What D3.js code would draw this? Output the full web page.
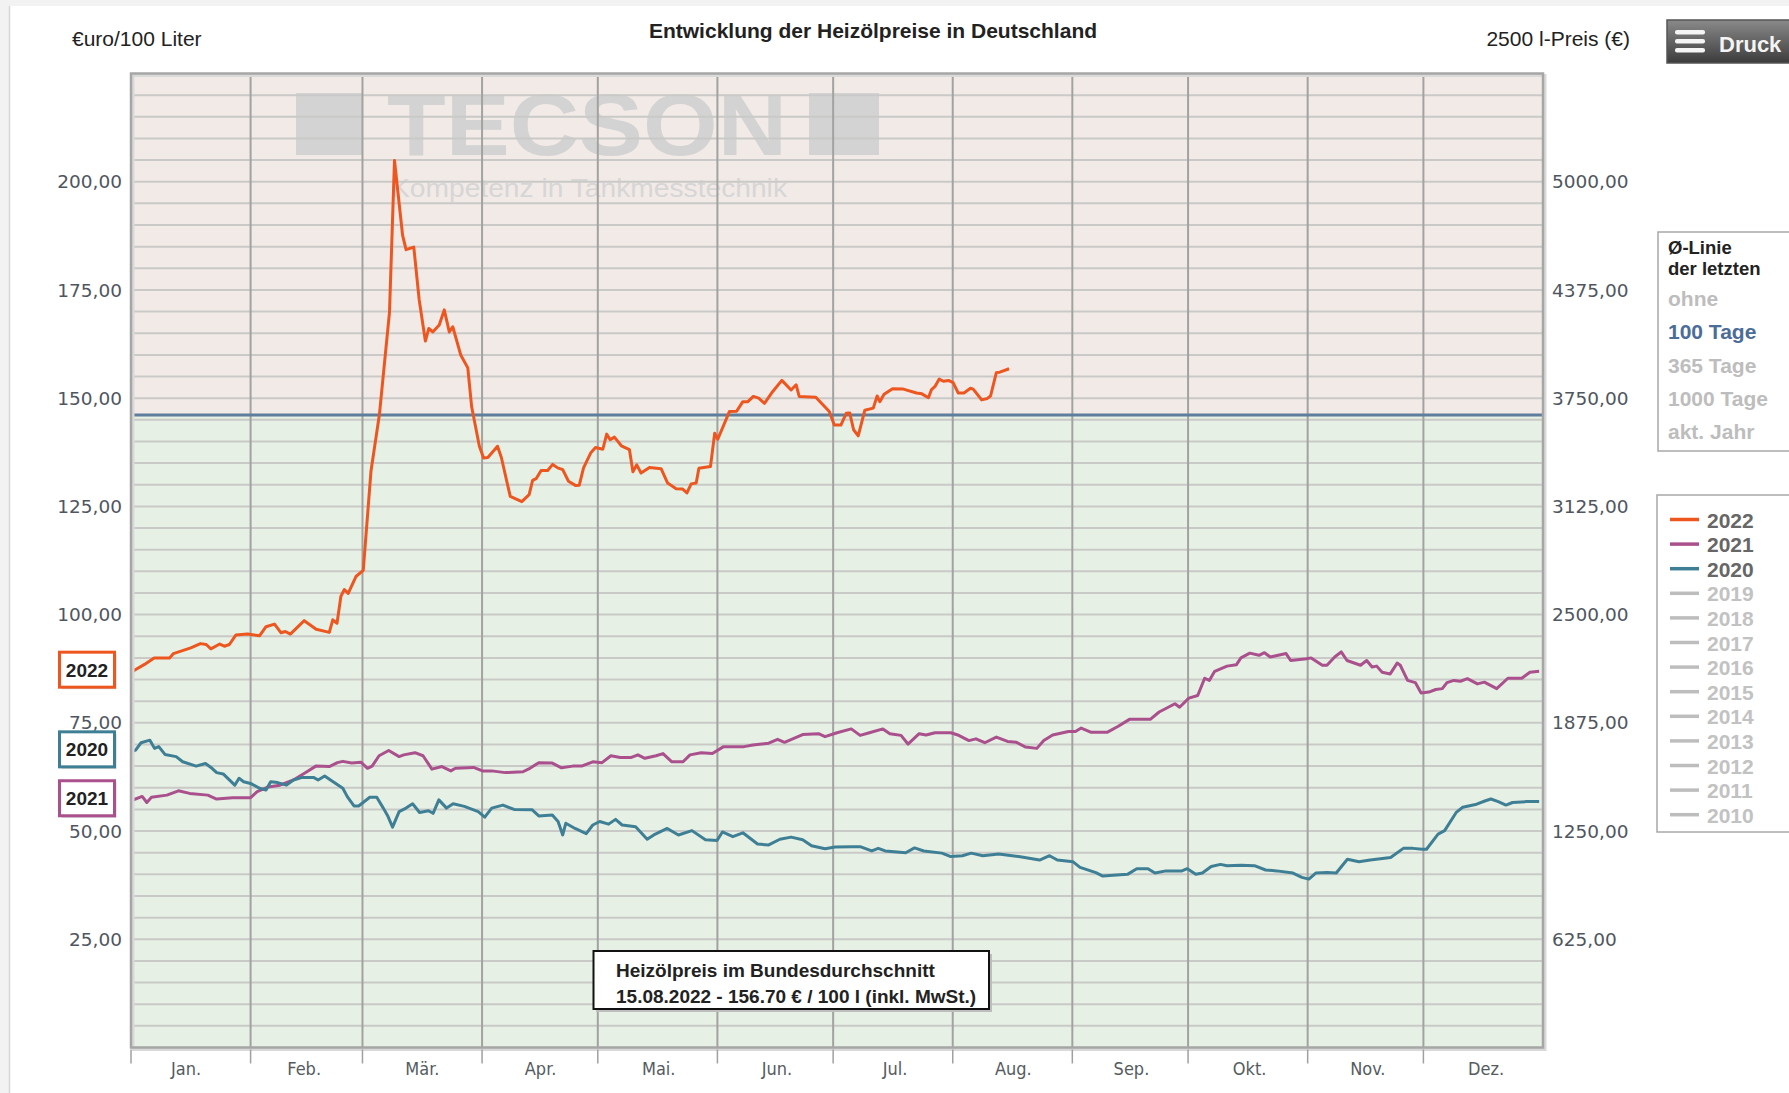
<!DOCTYPE html>
<html>
<head>
<meta charset="utf-8">
<script src="https://cdn.jsdelivr.net/npm/d3@7"></script>
<style>
    body { margin: 0; background: #ffffff; }
    svg { display: block; }
</style>
</head>
<body>
<svg id="chart"></svg>
<script>
// axis layout uses a leap year, so months start on these days
let months = ['Jan.', 'Feb.', 'Mär.', 'Apr.', 'Mai.', 'Jun.', 'Jul.', 'Aug.', 'Sep.', 'Okt.', 'Nov.', 'Dez.'];
let monthStarts = [0, 31, 60, 91, 121, 152, 182, 213, 244, 274, 305, 335, 366];
let priceTicks = [25, 50, 75, 100, 125, 150, 175, 200];
let average100 = 146.1;

let legendYears = ['2022', '2021', '2020', '2019', '2018', '2017', '2016', '2015', '2014', '2013', '2012', '2011', '2010'];
let activeYears = ['2022', '2021', '2020'];
let averageOptions = ['ohne', '100 Tage', '365 Tage', '1000 Tage', 'akt. Jahr'];
let activeAverage = '100 Tage';

// [day of year, euro per 100 l]
let prices2022 = [[0,86.7],[3.5,88.5],[6,90.0],[10,90.0],[11,91.0],[15.5,92.3],[18,93.3],[19.5,93.1],[20.7,92.1],[23,93.2],[24.2,92.7],[25.5,93.1],[27.2,95.3],[30.2,95.5],[33.3,95.1],[35,97.2],[37.2,97.8],[38.9,95.8],[40,96.1],[41.3,95.5],[44.9,98.6],[48,96.6],[51.4,95.9],[52.3,98.8],[53.4,98],[54.4,104.2],[55.3,105.8],[56.3,104.9],[58.3,108.8],[60.2,110.2],[62.2,133.1],[64.4,146.3],[67,169.8],[68.3,204.9],[70.4,187.6],[71.3,184.3],[73.3,184.9],[74.7,172.7],[76.3,163.2],[77.2,166.1],[78.2,165.3],[79.9,166.9],[81.2,170.4],[82.5,165.3],[83.4,166.5],[85.5,159.9],[87.3,157],[88.3,148],[90.3,138.9],[91.4,136.2],[92.5,136.3],[95,138.9],[96,136.3],[98.3,127.3],[101.3,126.1],[103.2,127.7],[104.1,131],[105,131.4],[106.3,133.3],[108,133.3],[109.3,134.7],[110.6,133.9],[111.9,133.5],[113.4,130.8],[115.3,129.8],[116.2,129.9],[117.3,133.9],[119.2,137.4],[120.4,138.6],[122.3,138.2],[123.3,141.7],[124.2,140.4],[125.3,141],[127.1,139],[129.2,138.1],[130.1,133],[131.1,134.6],[132.2,132.7],[134.4,134],[137.4,133.7],[139.1,130.4],[141.3,129.1],[143,129],[144.1,128.1],[145.2,130.2],[146.5,130.4],[147.2,133.8],[150.2,134.2],[151.3,141.9],[152.1,140.5],[155.1,146.9],[157,147],[158.6,149.2],[159.9,149.2],[161.3,150.4],[162.7,150],[164.2,148.8],[166.3,151.5],[168.7,154.1],[171.1,151.9],[172.4,153.1],[173.2,150.4],[177.5,150.2],[181,146.9],[182.3,143.8],[184,143.8],[185.4,146.5],[186.3,146.6],[187.3,142.7],[188.5,141.3],[190.2,147.2],[192.4,147.7],[193.4,150.5],[194.1,149.2],[195.2,150.9],[197.4,152.2],[200.2,152.1],[203.6,151.2],[205,151],[206.7,150.1],[207.5,152],[208.4,152.7],[209.5,154.4],[210.6,153.9],[211.9,154.1],[213.1,153.6],[214.4,151.2],[215.9,151.2],[217.6,152.3],[218.3,152.1],[220.5,149.6],[221.9,149.9],[222.8,150.5],[224.3,155.9],[225.2,156],[227.6,156.8]];

let prices2021 = [[0,57.0],[2.9,58.0],[4.1,56.6],[5.3,57.8],[9.3,58.3],[12.3,59.3],[15.2,58.7],[19.9,58.3],[22.2,57.4],[26.3,57.7],[31,57.7],[32.7,59.1],[35.6,60.2],[38.6,60.6],[42.1,61.8],[45.6,63.7],[47.9,65.0],[51.4,64.9],[53.5,65.8],[54.9,66.1],[57.2,65.7],[59.6,65.9],[61.3,64.5],[62.5,65.0],[64.3,67.4],[66.8,68.6],[69.5,67.2],[70.7,67.6],[73.6,68.1],[75.7,67.4],[78,64.3],[80.6,64.9],[82.9,63.9],[84.1,64.5],[88.8,64.7],[91.1,63.9],[93.5,63.9],[97,63.5],[101.6,63.7],[103.4,64.5],[105.7,65.8],[109.2,65.7],[111.6,64.6],[114.5,65.0],[116.8,65.0],[119.7,66.0],[122.1,65.8],[124.4,67.4],[126.8,67.0],[129.7,67.0],[131.4,67.6],[133.2,66.8],[136.1,67.4],[137.9,67.9],[140.2,66.0],[143.1,66.0],[144.9,67.6],[147.8,68.1],[150.7,67.9],[153.6,69.5],[156.5,69.5],[158.9,69.5],[161.2,69.9],[165.3,70.3],[167.6,71.2],[169.4,70.5],[174.1,72.3],[178.2,72.5],[179.9,71.8],[183,72.7],[186.7,73.6],[189,72.1],[191.4,72.7],[194.9,73.6],[196.7,72.5],[199.6,72.1],[201.4,70.1],[204.3,72.5],[206.1,72.2],[208.4,72.7],[212.5,72.7],[214.3,72.2],[217.2,70.9],[219,71.3],[221.3,70.4],[224.3,71.7],[227.2,70.7],[229.5,70.5],[231.9,69.4],[234.8,69.1],[236.6,70.9],[238.9,72.2],[243,73.0],[244.8,73.0],[246.3,73.8],[248.9,72.8],[253,72.8],[255.9,74.2],[258.8,75.8],[264.2,75.8],[266.5,77.5],[270.6,79.4],[271.8,78.6],[274.2,80.7],[276.5,81.3],[278.3,85.3],[279.5,84.8],[280.9,86.9],[284.1,88.1],[286.5,88.4],[287.7,90.0],[290,91.1],[292.4,90.6],[293.8,91.2],[295.3,90.2],[299.4,91.0],[300.6,89.4],[304.7,89.8],[305.9,90.0],[308.8,88.3],[310,88.3],[312,90.2],[313.7,91.4],[315.2,89.4],[318.7,88.3],[320.3,89.4],[321.7,87.9],[322.9,88.1],[324.3,86.7],[326.4,86.3],[328.2,88.8],[329,88.3],[330.9,84.8],[332.9,84.3],[334.4,81.9],[336.4,82.1],[338.2,82.7],[339.9,82.9],[341.1,84.3],[342.9,84.8],[344.6,84.6],[346.4,85.2],[349,84.0],[350.8,84.4],[354,82.9],[356.9,85.3],[360.5,85.3],[362.6,86.7],[365,86.9]];

let prices2020 = [[0,68.3],[1.2,68.7],[2.6,70.4],[4.9,71.0],[6.1,69.1],[7.2,69.5],[8.8,67.7],[11.7,67.2],[13.4,66.0],[16.9,65.0],[19.3,65.6],[21,64.5],[22.2,63.5],[23.9,63.2],[26.9,60.6],[28,62.2],[29.2,61.4],[31,61.0],[33.3,59.9],[35,59.5],[36.2,61.4],[38,61.2],[40.3,60.6],[42.1,61.8],[44.4,62.4],[47.3,62.4],[48.5,61.8],[50.2,62.7],[52,61.6],[54.9,59.9],[56.1,57.9],[57.8,55.8],[59,55.8],[61.9,57.8],[63.7,57.8],[65.4,55.3],[66.6,53.4],[67.8,50.9],[69.5,54.5],[71.3,55.3],[73,56.3],[74.8,54.3],[77.1,54.7],[78.3,54.1],[79.8,57.2],[81.8,55.3],[83.5,56.3],[86.4,55.7],[90,54.5],[91.7,53.2],[93.5,55.3],[96.4,56.0],[99.3,55.0],[104,54.9],[105.7,53.5],[109.2,53.7],[110.7,52.2],[111.9,49.1],[112.7,51.8],[115.1,50.6],[118,49.4],[119.7,51.4],[121.5,52.2],[123.8,51.6],[125.6,52.7],[127.3,51.4],[130.8,51.0],[133.8,48.1],[135.5,49.1],[139,50.6],[141.9,49.1],[145.4,50.1],[148.9,48.0],[151.9,47.8],[153.3,49.8],[156,48.7],[158.6,49.6],[162.4,47.0],[165.3,46.8],[168.2,48.1],[171.1,48.6],[174.1,48.0],[176.4,46.6],[179.9,45.9],[182.5,46.3],[186.7,46.4],[189,46.4],[192,45.4],[193.7,46.0],[195.5,45.4],[200.8,45.0],[203.1,46.1],[205.5,45.4],[210.2,44.9],[212.5,44.1],[215.5,44.3],[217.8,44.9],[220.8,44.3],[224.9,44.7],[230.1,44.1],[235.5,43.3],[238.1,44.3],[240.1,43.3],[244.2,42.9],[246,41.6],[250.1,40.4],[251.9,39.6],[258.3,40.0],[260.7,41.3],[263.6,41.3],[265.4,40.3],[268.3,40.8],[272.4,40.8],[273.8,41.3],[276,40.0],[277.7,40.3],[280,41.8],[282.4,42.3],[284.1,42.0],[287.7,42.1],[291.2,42.0],[294.1,41.0],[297,40.8],[301.2,40.3],[303.5,39.3],[305.3,38.9],[307.1,40.3],[310,40.4],[312.4,40.3],[315.3,43.5],[318.3,42.9],[321.2,43.3],[326.5,43.9],[329.8,46.0],[332.3,46.0],[334.7,45.8],[335.8,45.8],[338.8,49.3],[340.5,50.1],[343.5,54.3],[345.2,55.5],[348.8,56.2],[351.1,57.0],[352.5,57.4],[354.4,56.8],[356.4,56.0],[358.1,56.6],[361.7,56.8],[365,56.8]];

let series = [
    {year: '2021', values: prices2021},
    {year: '2020', values: prices2020},
    {year: '2022', values: prices2022}
];

let colors = {'2022': '#ee5620', '2021': '#a9508d', '2020': '#3e7f95'};
let inactiveColor = '#bdbdbd';

let width = 1789;
let height = 1093;
let plot = {left: 131, right: 1543, top: 73.5, bottom: 1047.5};

let svg = d3.select('#chart')
    .attr('width', width)
    .attr('height', height)
    .style('font-family', '"Liberation Sans", Arial, sans-serif');

let x = d3.scaleLinear().domain([0, 366]).range([plot.left, plot.right]);
let y = d3.scaleLinear().domain([0, 225]).range([plot.bottom, plot.top]);
let fmt = function (v) {
    return d3.format('.2f')(v).replace('.', ',');
};

// page frame
svg.append('rect').attr('width', width).attr('height', height).attr('fill', '#ffffff');
svg.append('rect').attr('width', width).attr('height', 6).attr('fill', '#f2f2f2');
svg.append('rect').attr('width', 9).attr('height', height).attr('fill', '#f2f2f2');
svg.append('line').attr('x1', 9.5).attr('x2', 9.5).attr('y1', 6).attr('y2', height)
    .attr('stroke', '#d6d6d6').attr('stroke-width', 1.5);

// zones above and below the 100 day average
svg.append('rect')
    .attr('x', plot.left).attr('y', plot.top)
    .attr('width', plot.right - plot.left)
    .attr('height', y(average100) - plot.top)
    .attr('fill', '#f2eae7');
svg.append('rect')
    .attr('x', plot.left).attr('y', y(average100))
    .attr('width', plot.right - plot.left)
    .attr('height', plot.bottom - y(average100))
    .attr('fill', '#e6f0e4');

// watermark
let mark = svg.append('g').attr('fill', '#d3d3d3');
mark.append('rect').attr('x', 296).attr('y', 93).attr('width', 66).attr('height', 62);
mark.append('rect').attr('x', 809).attr('y', 93).attr('width', 70).attr('height', 62);
mark.append('text')
    .attr('x', 387).attr('y', 155)
    .attr('textLength', 400).attr('lengthAdjust', 'spacingAndGlyphs')
    .style('font-size', '87px').style('font-weight', 'bold')
    .text('TECSON');
mark.append('text')
    .attr('x', 391).attr('y', 197)
    .attr('textLength', 396).attr('lengthAdjust', 'spacingAndGlyphs')
    .attr('fill', '#d6d6d6')
    .style('font-size', '25px')
    .text('Kompetenz in Tankmesstechnik');

// grid
svg.append('g')
    .selectAll('line')
    .data(d3.range(5, 225, 5))
    .enter()
    .append('line')
    .attr('x1', plot.left).attr('x2', plot.right)
    .attr('y1', function (d) { return y(d); })
    .attr('y2', function (d) { return y(d); })
    .attr('stroke', '#c9cac8')
    .attr('stroke-width', 2);

svg.append('g')
    .selectAll('line')
    .data(monthStarts.slice(1, 12))
    .enter()
    .append('line')
    .attr('x1', function (d) { return x(d); })
    .attr('x2', function (d) { return x(d); })
    .attr('y1', plot.top).attr('y2', plot.bottom)
    .attr('stroke', '#a2a3a1')
    .attr('stroke-width', 2);

// 100 day average line
svg.append('line')
    .attr('x1', plot.left).attr('x2', plot.right)
    .attr('y1', y(average100)).attr('y2', y(average100))
    .attr('stroke', '#5f7d9c')
    .attr('stroke-width', 3);

// price lines
let line = d3.line()
    .x(function (d) { return x(d[0]); })
    .y(function (d) { return y(d[1]); });

svg.append('g')
    .selectAll('path')
    .data(series)
    .enter()
    .append('path')
    .attr('d', function (d) { return line(d.values); })
    .attr('fill', 'none')
    .attr('stroke', function (d) { return colors[d.year]; })
    .attr('stroke-width', 3)
    .attr('stroke-linejoin', 'round');

// plot frame with a soft shadow
svg.append('rect')
    .attr('x', plot.left + 2).attr('y', plot.top + 2)
    .attr('width', plot.right - plot.left).attr('height', plot.bottom - plot.top)
    .attr('fill', 'none').attr('stroke', '#d9d9d9').attr('stroke-width', 3);
svg.append('rect')
    .attr('x', plot.left).attr('y', plot.top)
    .attr('width', plot.right - plot.left).attr('height', plot.bottom - plot.top)
    .attr('fill', 'none').attr('stroke', '#a6a6a6').attr('stroke-width', 2.5);

// left and right value labels
let valueLabels = svg.append('g')
    .style('font-family', '"DejaVu Sans", Verdana, sans-serif')
    .style('font-size', '18.5px')
    .attr('fill', '#4f5660');

valueLabels.selectAll('.left')
    .data(priceTicks)
    .enter()
    .append('text')
    .attr('class', 'left')
    .attr('x', 122)
    .attr('y', function (d) { return y(d); })
    .attr('dy', '0.36em')
    .attr('text-anchor', 'end')
    .text(function (d) { return fmt(d); });

valueLabels.selectAll('.right')
    .data(priceTicks)
    .enter()
    .append('text')
    .attr('class', 'right')
    .attr('x', 1552)
    .attr('y', function (d) { return y(d); })
    .attr('dy', '0.36em')
    .text(function (d) { return fmt(d * 25); });

// month ticks and labels
svg.append('g')
    .selectAll('line')
    .data(monthStarts.slice(0, 12))
    .enter()
    .append('line')
    .attr('x1', function (d) { return x(d); })
    .attr('x2', function (d) { return x(d); })
    .attr('y1', plot.bottom + 2).attr('y2', plot.bottom + 16)
    .attr('stroke', '#a0a0a0')
    .attr('stroke-width', 1.5);

let monthScale = d3.scalePoint().domain(months).range([186, 1486]);
svg.append('g')
    .selectAll('text')
    .data(months)
    .enter()
    .append('text')
    .attr('x', function (d) { return monthScale(d); })
    .attr('y', 1075)
    .attr('text-anchor', 'middle')
    .style('font-family', '"DejaVu Sans Condensed", "DejaVu Sans", sans-serif')
    .style('font-stretch', 'condensed')
    .style('font-size', '18px')
    .attr('fill', '#555b60')
    .text(function (d) { return d; });

// headings
svg.append('text')
    .attr('x', 72).attr('y', 46)
    .style('font-size', '21px').attr('fill', '#222')
    .text('€uro/100 Liter');
svg.append('text')
    .attr('x', 1630).attr('y', 46)
    .attr('text-anchor', 'end')
    .style('font-size', '21px').attr('fill', '#222')
    .text('2500 l-Preis (€)');
svg.append('text')
    .attr('x', 873).attr('y', 38)
    .attr('text-anchor', 'middle')
    .style('font-size', '21px').style('font-weight', 'bold').attr('fill', '#222')
    .text('Entwicklung der Heizölpreise in Deutschland');

// print button
let grad = svg.append('defs').append('linearGradient')
    .attr('id', 'btn').attr('x1', 0).attr('x2', 0).attr('y1', 0).attr('y2', 1);
grad.append('stop').attr('offset', '0%').attr('stop-color', '#8a8a8a');
grad.append('stop').attr('offset', '100%').attr('stop-color', '#3c3c3c');

let btn = svg.append('g');
btn.append('rect')
    .attr('x', 1667).attr('y', 20).attr('width', 130).attr('height', 43)
    .attr('fill', 'url(#btn)').attr('stroke', '#555').attr('stroke-width', 1.5);
btn.selectAll('.bar')
    .data([30, 39, 48])
    .enter()
    .append('rect')
    .attr('class', 'bar')
    .attr('x', 1675).attr('y', function (d) { return d; })
    .attr('width', 30).attr('height', 4.5).attr('rx', 2)
    .attr('fill', '#f4f4f4');
btn.append('text')
    .attr('x', 1719).attr('y', 52)
    .style('font-size', '22px').style('font-weight', 'bold')
    .attr('fill', '#f4f4f4')
    .text('Druck');

// average selector box
let avgBox = svg.append('g');
avgBox.append('rect')
    .attr('x', 1658).attr('y', 232).attr('width', 140).attr('height', 219)
    .attr('fill', '#fff').attr('stroke', '#a8a8a8').attr('stroke-width', 1.5);
avgBox.append('text')
    .attr('x', 1668).attr('y', 254)
    .style('font-size', '18.5px').style('font-weight', 'bold').attr('fill', '#222')
    .text('Ø-Linie');
avgBox.append('text')
    .attr('x', 1668).attr('y', 275)
    .style('font-size', '18.5px').style('font-weight', 'bold').attr('fill', '#222')
    .text('der letzten');
avgBox.selectAll('.opt')
    .data(averageOptions)
    .enter()
    .append('text')
    .attr('class', 'opt')
    .attr('x', 1668)
    .attr('y', function (d, i) { return 306 + i * 33.3; })
    .style('font-size', '21px').style('font-weight', 'bold')
    .attr('fill', function (d) { return d === activeAverage ? '#4b6d98' : '#bdbdbd'; })
    .text(function (d) { return d; });

// year legend
let yearBox = svg.append('g');
yearBox.append('rect')
    .attr('x', 1657).attr('y', 495).attr('width', 140).attr('height', 337)
    .attr('fill', '#fff').attr('stroke', '#a8a8a8').attr('stroke-width', 1.5);
let yearRow = yearBox.selectAll('.row')
    .data(legendYears)
    .enter()
    .append('g')
    .attr('class', 'row')
    .attr('transform', function (d, i) { return 'translate(0,' + (519.5 + i * 24.6) + ')'; });
yearRow.append('line')
    .attr('x1', 1670).attr('x2', 1699)
    .attr('stroke', function (d) { return colors[d] || inactiveColor; })
    .attr('stroke-width', 3.5);
yearRow.append('text')
    .attr('x', 1707).attr('y', 8)
    .style('font-size', '21px').style('font-weight', 'bold')
    .attr('fill', function (d) { return activeYears.indexOf(d) >= 0 ? '#676767' : '#c2c2c2'; })
    .text(function (d) { return d; });

// year tags next to the start of each line
let tags = svg.append('g')
    .selectAll('g')
    .data(series)
    .enter()
    .append('g')
    .attr('transform', function (d) { return 'translate(59.5,' + (y(d.values[0][1]) - 20) + ')'; });
tags.append('rect')
    .attr('x', 2).attr('y', 2).attr('width', 55).attr('height', 35)
    .attr('fill', '#cfcfcf');
tags.append('rect')
    .attr('width', 55).attr('height', 35)
    .attr('fill', '#fff')
    .attr('stroke', function (d) { return colors[d.year]; })
    .attr('stroke-width', 3);
tags.append('text')
    .attr('x', 27.5).attr('y', 24.5)
    .attr('text-anchor', 'middle')
    .style('font-size', '19px').style('font-weight', 'bold').attr('fill', '#222')
    .text(function (d) { return d.year; });

// current price box
let info = svg.append('g');
info.append('rect')
    .attr('x', 596).attr('y', 954).attr('width', 396).attr('height', 58)
    .attr('fill', '#bdbdbd');
info.append('rect')
    .attr('x', 593.5).attr('y', 951).attr('width', 395.5).attr('height', 58)
    .attr('fill', '#fff').attr('stroke', '#111').attr('stroke-width', 2);
info.append('text')
    .attr('x', 616).attr('y', 977)
    .style('font-size', '19px').style('font-weight', 'bold').attr('fill', '#222')
    .text('Heizölpreis im Bundesdurchschnitt');
info.append('text')
    .attr('x', 616).attr('y', 1003)
    .style('font-size', '19px').style('font-weight', 'bold').attr('fill', '#222')
    .text('15.08.2022 - 156.70 € / 100 l (inkl. MwSt.)');
</script>
</body>
</html>
